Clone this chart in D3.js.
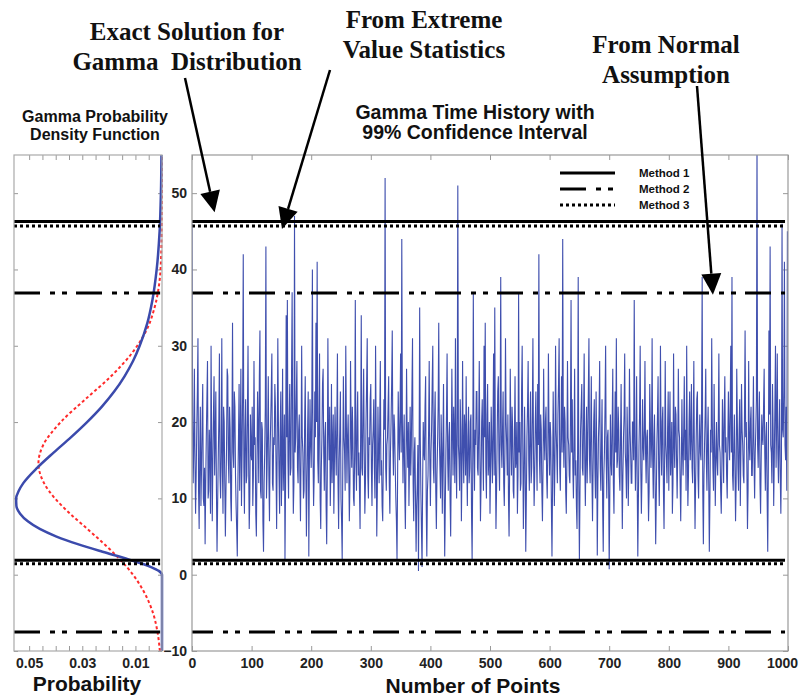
<!DOCTYPE html>
<html>
<head>
<meta charset="utf-8">
<script src="https://cdn.jsdelivr.net/npm/d3@7"></script>
<style>
  body { margin: 0; background: #fff; }
  svg { display: block; }
  text { font-family: "Liberation Sans", Arial, sans-serif; font-weight: bold; fill: #111; }
  .serif { font-family: "Liberation Serif", "Times New Roman", serif; }
  .tick text { fill: #222; }
</style>
</head>
<body>
<svg id="chart" width="799" height="698"></svg>
<script>
// Gamma time history, 1000 points (estimated off the plot)
const sampleStep = 1;
const pointValues = [
  46, 21, 12, 17, 27, 15, 8, 13, 19, 24, 31, 11, 6, 16, 22, 9, 14, 20, 25, 10,
  9, 14, 4, 12, 18, 23, 28, 10, 11, 19, 16, 8, 30, 17, 7, 15, 21, 26, 13, 18,
  24, 11, 3, 9, 15, 20, 29, 13, 10, 16, 31, 14, 8, 22, 20, 12, 5, 11, 17, 27,
  26, 15, 12, 22, 19, 10, 7, 18, 33, 16, 14, 24, 22, 13, 9, 6, 2.4, 12, 18, 25,
  11, 17, 27, 9, 16, 24, 42, 14, 8, 19, 23, 12, 13, 21, 30, 15, 6, 10, 21, 16,
  15, 22, 9, 13, 28, 17, 18, 8, 5, 14, 24, 19, 12, 26, 32, 11, 10, 20, 19, 7,
  3, 12, 16, 22, 43, 10, 14, 19, 26, 13, 7, 16, 20, 24, 29, 12, 11, 18, 17, 25,
  22, 14, 6, 17, 31, 20, 13, 8, 19, 24, 9, 15, 27, 11, 15, 21, 2, 12, 34, 18,
  36, 15, 10, 20, 25, 13, 14, 26, 37, 17, 8, 12, 47, 16, 18, 23, 28, 14, 12, 19,
  21, 13, 7, 16, 30, 18, 16, 10, 11, 20, 26, 14, 5, 12, 19, 24, 2.4, 15, 23, 17,
  14, 22, 40, 16, 9, 13, 24, 18, 33, 20, 41, 15, 12, 21, 29, 10, 6, 14, 18, 25,
  27, 16, 11, 18, 20, 9, 4, 13, 31, 19, 15, 22, 9, 14, 25, 12, 17, 21, 8, 15,
  22, 17, 13, 20, 29, 12, 6, 15, 19, 24, 10, 7, 2, 14, 26, 18, 16, 11, 30, 20,
  12, 18, 21, 14, 7, 12, 28, 19, 14, 22, 18, 10, 9, 17, 36, 15, 11, 20, 24, 13,
  16, 11, 6, 19, 34, 14, 13, 21, 27, 16, 8, 12, 20, 25, 31, 13, 10, 18, 17, 23,
  25, 14, 9, 17, 19, 23, 14, 10, 30, 18, 5, 11, 22, 16, 12, 20, 28, 13, 15, 9,
  7, 15, 23, 19, 52, 14, 11, 17, 18, 22, 26, 12, 8, 16, 20, 25, 32, 17, 13, 21,
  19, 14, 10, 7, 2, 13, 24, 18, 15, 21, 29, 16, 44, 20, 12, 17, 21, 11, 6, 14,
  27, 18, 14, 20, 9, 15, 22, 13, 17, 24, 31, 12, 7, 16, 18, 10, 3, 9, 12, 17,
  0.5, 14, 35, 18, 11, 6, 1, 12, 20, 16, 15, 22, 26, 9, 2.4, 11, 13, 19, 28, 15,
  9, 16, 19, 25, 30, 14, 12, 20, 24, 11, 6, 13, 17, 22, 33, 18, 14, 10, 21, 16,
  8, 17, 25, 12, 2.4, 9, 16, 21, 29, 15, 11, 18, 20, 10, 5, 14, 27, 19, 13, 22,
  18, 12, 31, 16, 10, 20, 51, 17, 15, 11, 23, 19, 7, 14, 28, 16, 12, 21, 19, 13,
  26, 15, 9, 18, 22, 12, 14, 20, 21, 8, 2, 13, 37, 17, 11, 19, 17, 24, 24, 14,
  13, 19, 28, 16, 7, 12, 20, 23, 16, 11, 30, 18, 33, 14, 10, 21, 25, 13, 15, 20,
  8, 14, 22, 17, 12, 19, 29, 13, 35, 16, 6, 11, 18, 24, 26, 15, 11, 20, 39, 17,
  14, 19, 24, 12, 9, 16, 31, 20, 17, 13, 21, 10, 5, 14, 27, 18, 13, 22, 19, 11,
  10, 18, 26, 14, 15, 20, 8, 13, 37, 16, 20, 11, 12, 24, 30, 17, 6, 13, 22, 15,
  3, 10, 18, 22, 28, 15, 11, 19, 24, 12, 14, 21, 31, 16, 9, 13, 20, 24, 16, 11,
  25, 17, 42, 15, 12, 21, 19, 11, 7, 14, 27, 18, 15, 20, 22, 13, 10, 16, 29, 19,
  13, 20, 18, 9, 2.4, 12, 24, 17, 9, 15, 30, 19, 16, 12, 21, 25, 31, 14, 11, 18,
  26, 16, 44, 19, 14, 22, 20, 11, 8, 15, 28, 18, 17, 13, 12, 20, 36, 16, 23, 14,
  10, 17, 27, 13, 15, 9, 6, 16, 39, 12, 2, 11, 19, 22, 25, 14, 13, 20, 29, 15,
  9, 16, 22, 12, 17, 24, 31, 15, 12, 19, 26, 13, 7, 14, 20, 23, 14, 10, 24, 17,
  2.5, 12, 18, 21, 28, 14, 11, 17, 23, 9, 3, 13, 16, 22, 30, 15, 10, 18, 19, 12,
  0.7, 10, 21, 15, 13, 20, 27, 12, 8, 17, 24, 16, 31, 14, 15, 22, 19, 13, 11, 18,
  25, 14, 6, 13, 18, 21, 29, 16, 14, 10, 22, 17, 9, 15, 27, 19, 16, 12, 12, 20,
  20, 15, 36, 18, 11, 16, 26, 12, 2.4, 10, 17, 21, 30, 14, 8, 13, 23, 17, 15, 19,
  28, 16, 12, 18, 19, 13, 7, 11, 25, 20, 14, 17, 31, 15, 10, 18, 21, 12, 4, 10,
  17, 21, 26, 14, 9, 16, 30, 18, 13, 20, 22, 11, 6, 15, 28, 17, 15, 12, 19, 24,
  11, 18, 24, 13, 16, 20, 8, 12, 29, 17, 14, 22, 21, 15, 10, 16, 27, 19, 18, 12,
  7, 14, 23, 16, 13, 19, 26, 15, 19, 11, 30, 17, 9, 13, 20, 24, 15, 18, 25, 14,
  12, 19, 28, 14, 6, 12, 18, 23, 24, 13, 10, 17, 21, 16, 15, 22, 39, 11, 4, 13,
  17, 21, 27, 15, 11, 18, 22, 12, 3, 10, 19, 16, 31, 20, 14, 11, 25, 17, 9, 15,
  20, 15, 13, 19, 29, 17, 16, 11, 8, 14, 23, 18, 12, 21, 26, 16, 18, 13, 10, 17,
  24, 18, 15, 22, 30, 16, 39, 13, 11, 17, 21, 14, 7, 12, 27, 20, 14, 11, 19, 23,
  9, 16, 25, 19, 17, 13, 12, 21, 32, 18, 20, 14, 6, 11, 28, 17, 15, 20, 22, 13,
  13, 18, 26, 15, 10, 16, 19, 23, 57, 17, 14, 20, 24, 12, 8, 15, 21, 18, 17, 22,
  27, 16, 11, 18, 20, 10, 3, 14, 32, 21, 43, 17, 16, 12, 25, 19, 9, 15, 22, 30,
  14, 20, 29, 16, 12, 18, 23, 13, 8, 15, 46, 19, 18, 24, 41, 17, 15, 22, 11, 45
];

// Gamma PDF (blue) and normal PDF (red): value level vs probability
const gammaLevels = [-10, 0, 0.5, 1, 2, 3, 4, 5, 6, 7, 8, 9, 10, 11, 12, 14, 16, 18, 20, 22, 24, 26, 28, 30, 33, 36, 40, 45, 50, 55];
const gammaDensity = [0, 0, 0.0012, 0.0041, 0.0126, 0.0224, 0.0317, 0.0397, 0.0460, 0.0505, 0.0534, 0.0548, 0.0549, 0.0539, 0.0522, 0.0470, 0.0408, 0.0343, 0.0282, 0.0227, 0.0180, 0.0141, 0.0109, 0.0084, 0.0055, 0.0036, 0.0020, 0.0009, 0.0004, 0.0002];
const normalLevels = [-10, -7.5, -5, -2, 0, 2, 4, 6, 8, 10, 12, 14.6, 17, 20, 23, 26, 29, 32, 35, 38, 42, 46, 55];
const normalDensity = [0.0008, 0.0017, 0.0034, 0.0072, 0.0109, 0.0158, 0.0217, 0.0281, 0.0346, 0.0403, 0.0444, 0.0465, 0.0447, 0.0381, 0.0288, 0.0192, 0.0114, 0.0059, 0.0028, 0.0011, 0.0003, 0.0001, 0];

// 99% confidence limits per method
const methodNames = ["Method 1", "Method 2", "Method 3"];
const upperLimits = [46.3, 36.9, 45.7];
const lowerLimits = [1.9, -7.5, 1.45];

// Axis ticks
const valueTicks = [-10, 0, 10, 20, 30, 40, 50];
const pointTicks = [0, 100, 200, 300, 400, 500, 600, 700, 800, 900, 1000];
const probTicks = [0.005, 0.01, 0.015, 0.02, 0.025, 0.03, 0.035, 0.04, 0.045, 0.05];
const probLabels = [0.05, 0.03, 0.01];

const svg = d3.select("#chart");

// Scales
const y = d3.scaleLinear().domain([-10, 55]).range([651, 155]);
const x = d3.scaleLinear().domain([0, 1000]).range([192, 788]);
const px = d3.scaleLinear().domain([0.0557, 0]).range([14, 162]);

// Line styles for the three methods
const methodDash = ["none", "26,10,5,7,5,9", "3,3"];

svg.append("defs").append("clipPath").attr("id", "clipRight")
  .append("rect")
  .attr("x", x(0)).attr("y", y(55))
  .attr("width", x(1000) - x(0)).attr("height", y(-10) - y(55));

function styleAxis(g) {
  g.select(".domain").remove();
  g.selectAll(".tick line").attr("stroke", "#999");
  g.selectAll(".tick text").attr("font-size", 14);
}

// ---------- Right panel: time history ----------
const right = svg.append("g");

right.append("g").attr("transform", `translate(${x(0)},0)`)
  .call(d3.axisLeft(y).tickValues(valueTicks).tickSize(-5).tickPadding(5)
    .tickFormat(d => d < 0 ? "\u2212" + Math.abs(d) : d))
  .call(styleAxis);
right.append("g").attr("transform", `translate(${x(1000)},0)`)
  .call(d3.axisRight(y).tickValues(valueTicks).tickSize(-5).tickFormat(""))
  .call(styleAxis);
right.append("g").attr("transform", `translate(0,${y(-10)})`)
  .call(d3.axisBottom(x).tickValues(pointTicks).tickSize(-5).tickPadding(7)
    .tickFormat(d3.format("d")))
  .call(styleAxis)
  .call(g => g.selectAll(".tick text").filter(d => d === 1000).attr("dx", -6));
right.append("g").attr("transform", `translate(0,${y(55)})`)
  .call(d3.axisTop(x).tickValues(pointTicks).tickSize(-5).tickFormat(""))
  .call(styleAxis);

const seriesLine = d3.line()
  .x((d, i) => x(i * sampleStep))
  .y(d => y(d));

right.append("path")
  .datum(pointValues)
  .attr("clip-path", "url(#clipRight)")
  .attr("fill", "none")
  .attr("stroke", "#3f4fae")
  .attr("stroke-width", 1.1)
  .attr("d", seriesLine);

function drawLimits(g, x0, x1, offsets) {
  methodNames.forEach((m, i) => {
    [upperLimits[i], lowerLimits[i]].forEach(v => {
      g.append("line")
        .attr("x1", x0).attr("x2", x1)
        .attr("y1", y(v)).attr("y2", y(v))
        .attr("stroke", "#000")
        .attr("stroke-width", 3)
        .attr("stroke-dasharray", methodDash[i])
        .attr("stroke-dashoffset", offsets[i]);
    });
  });
}
drawLimits(right, x(0), x(995), [0, 5, 0]);

right.append("rect")
  .attr("x", x(0)).attr("y", y(55))
  .attr("width", x(1000) - x(0)).attr("height", y(-10) - y(55))
  .attr("fill", "none").attr("stroke", "#999").attr("stroke-width", 1.2);

// Legend
const legend = right.append("g").attr("transform", "translate(560,173)");
methodNames.forEach((m, i) => {
  const ly = i * 16;
  legend.append("line")
    .attr("x1", 0).attr("x2", 55).attr("y1", ly).attr("y2", ly)
    .attr("stroke", "#000").attr("stroke-width", 3)
    .attr("stroke-dasharray", methodDash[i]);
  legend.append("text")
    .attr("x", 79).attr("y", ly).attr("dy", "0.35em")
    .attr("font-size", 11.5)
    .text(m);
});

right.append("text")
  .attr("x", 475).attr("y", 119)
  .attr("text-anchor", "middle").attr("font-size", 19.5)
  .text("Gamma Time History with");
right.append("text")
  .attr("x", 475).attr("y", 139)
  .attr("text-anchor", "middle").attr("font-size", 19.5)
  .text("99% Confidence Interval");
right.append("text")
  .attr("x", 473).attr("y", 693)
  .attr("text-anchor", "middle").attr("font-size", 21)
  .text("Number of Points");

// ---------- Left panel: probability density ----------
const left = svg.append("g");

left.append("g").attr("transform", `translate(${px(0.0557)},0)`)
  .call(d3.axisLeft(y).tickValues(valueTicks).tickSize(-4).tickFormat(""))
  .call(styleAxis);
left.append("g").attr("transform", `translate(${px(0)},0)`)
  .call(d3.axisRight(y).tickValues(valueTicks).tickSize(-4).tickFormat(""))
  .call(styleAxis);
left.append("g").attr("transform", `translate(0,${y(-10)})`)
  .call(d3.axisBottom(px).tickValues(probTicks).tickSize(-5).tickPadding(7)
    .tickFormat(d => probLabels.some(p => Math.abs(p - d) < 1e-9) ? d3.format(".2f")(d) : ""))
  .call(styleAxis);
left.append("g").attr("transform", `translate(0,${y(55)})`)
  .call(d3.axisTop(px).tickValues(probTicks).tickSize(-5).tickFormat(""))
  .call(styleAxis);

const normalLine = d3.line()
  .x((d, i) => px(normalDensity[i]))
  .y(d => y(d))
  .curve(d3.curveMonotoneY);
const gammaLine = d3.line()
  .x((d, i) => px(gammaDensity[i]))
  .y(d => y(d))
  .curve(d3.curveMonotoneY);

left.append("path")
  .datum(normalLevels)
  .attr("fill", "none")
  .attr("stroke", "#ff2a2a")
  .attr("stroke-width", 2)
  .attr("stroke-dasharray", "3,2.5")
  .attr("d", normalLine);

left.append("path")
  .datum(gammaLevels)
  .attr("fill", "none")
  .attr("stroke", "#3b4aac")
  .attr("stroke-width", 2.5)
  .attr("d", gammaLine);

drawLimits(left, px(0.0557), px(0.0007), [0, 0, 0]);

left.append("rect")
  .attr("x", px(0.0557)).attr("y", y(55))
  .attr("width", px(0) - px(0.0557)).attr("height", y(-10) - y(55))
  .attr("fill", "none").attr("stroke", "#aaa").attr("stroke-width", 1.2);

left.append("text")
  .attr("x", 95).attr("y", 122)
  .attr("text-anchor", "middle").attr("font-size", 16)
  .text("Gamma Probability");
left.append("text")
  .attr("x", 95).attr("y", 140)
  .attr("text-anchor", "middle").attr("font-size", 16)
  .text("Density Function");
left.append("text")
  .attr("x", 87).attr("y", 691)
  .attr("text-anchor", "middle").attr("font-size", 21)
  .text("Probability");

// ---------- Annotations ----------
const notes = [
  { lines: ["Exact Solution for", "Gamma  Distribution"], cx: 187, top: 40, from: [185, 78], tip: [38, 47.5] },
  { lines: ["From Extreme", "Value Statistics"], cx: 424, top: 28, from: [330, 70], tip: [151, 45.3] },
  { lines: ["From Normal", "Assumption"], cx: 666, top: 53, from: [697, 86], tip: [874, 36.7] }
];

const ann = svg.append("g");
notes.forEach(n => {
  n.lines.forEach((t, i) => {
    ann.append("text")
      .attr("class", "serif")
      .attr("x", n.cx).attr("y", n.top + i * 30)
      .attr("text-anchor", "middle")
      .attr("font-size", 25)
      .style("white-space", "pre")
      .text(t);
  });
  const tx = x(n.tip[0]), ty = y(n.tip[1]);
  const [fx, fy] = n.from;
  const len = Math.hypot(tx - fx, ty - fy);
  const ux = (tx - fx) / len, uy = (ty - fy) / len;
  const headLen = 21, headHalf = 10;
  const bx = tx - ux * headLen, by = ty - uy * headLen;
  ann.append("line")
    .attr("x1", fx).attr("y1", fy).attr("x2", bx).attr("y2", by)
    .attr("stroke", "#000").attr("stroke-width", 2.5);
  ann.append("path")
    .attr("d", `M${tx},${ty} L${bx - uy * headHalf},${by + ux * headHalf} L${bx + uy * headHalf},${by - ux * headHalf} Z`)
    .attr("fill", "#000");
});
</script>
</body>
</html>
